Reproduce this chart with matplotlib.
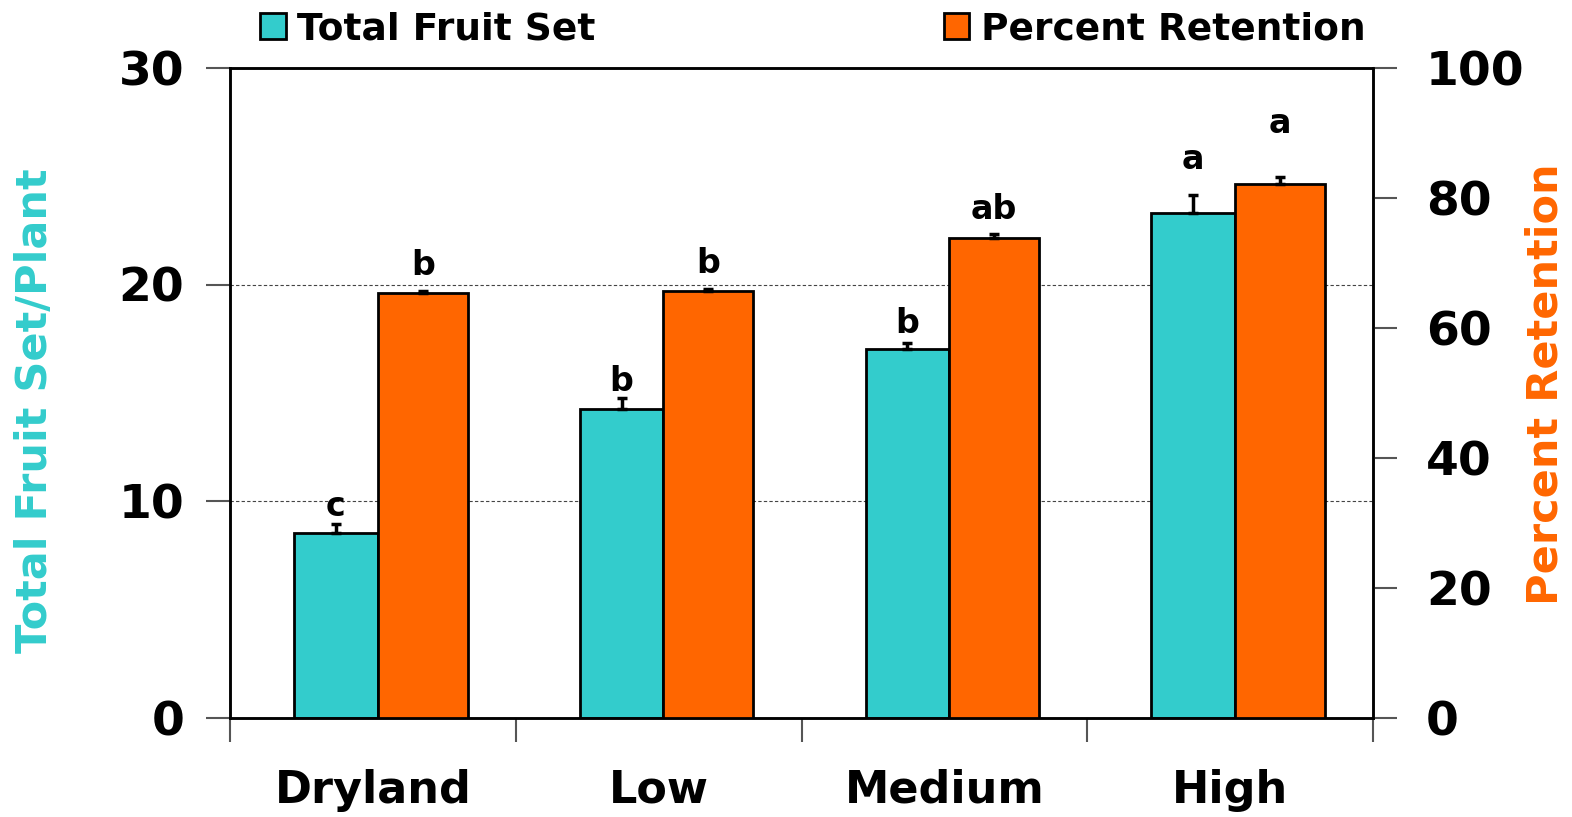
import matplotlib
matplotlib.use("Agg")
import matplotlib.pyplot as plt
import numpy as np

# Irrigation treatments
categories = ["Dryland", "Low", "Medium", "High"]

# Total fruit set per plant (left axis) with standard errors
fruit_set = [8.52, 14.23, 17.0, 23.28]
fruit_err = [0.42, 0.55, 0.32, 0.85]
fruit_letters = ["c", "b", "b", "a"]

# Percent retention (right axis) with standard errors
retention = [65.4, 65.6, 73.9, 82.2]
retention_err = [0.3, 0.3, 0.5, 1.0]
retention_letters = ["b", "b", "ab", "a"]

TEAL = "#33CCCC"
ORANGE = "#FF6600"
FONT = "DejaVu Sans"

plt.rcParams["font.family"] = FONT
plt.rcParams["font.weight"] = "bold"

fig = plt.figure(figsize=(15.72, 8.17), dpi=100)
ax = fig.add_axes([230 / 1572, 1 - 717.5 / 817, (1373 - 230) / 1572, (717.5 - 68) / 817])
ax2 = ax.twinx()

x = np.arange(len(categories))
teal_left, teal_w = 0.224, 0.293
orange_left, orange_w = 0.517, 0.315

b1 = ax.bar(x + teal_left, fruit_set, width=teal_w, align="edge", color=TEAL,
            edgecolor="black", linewidth=2, zorder=3, label="Total Fruit Set")
ax.errorbar(x + teal_left + teal_w / 2, fruit_set, yerr=[np.zeros(4), fruit_err],
            fmt="none", ecolor="black", elinewidth=2.5, capsize=3.6, capthick=2.5, zorder=4)

b2 = ax2.bar(x + orange_left, retention, width=orange_w, align="edge", color=ORANGE,
             edgecolor="black", linewidth=2, zorder=3, label="Percent Retention")
ax2.errorbar(x + orange_left + orange_w / 2, retention, yerr=[np.zeros(4), retention_err],
             fmt="none", ecolor="black", elinewidth=2.5, capsize=3.6, capthick=2.5, zorder=4)

# significance letters above each bar
fruit_gap = [0.35, 0.3, 0.45, 1.2]
ret_gap = [2.4, 2.5, 2.3, 6.8]
for i in range(len(categories)):
    ax.text(x[i] + teal_left + teal_w / 2, fruit_set[i] + fruit_err[i] + fruit_gap[i],
            fruit_letters[i], ha="center", va="baseline", fontsize=24, fontweight="bold")
    ax2.text(x[i] + orange_left + orange_w / 2, retention[i] + retention_err[i] + ret_gap[i],
             retention_letters[i], ha="center", va="baseline", fontsize=24, fontweight="bold")

ax.set_xlim(0, 4)
ax.set_ylim(0, 30)
ax2.set_ylim(0, 100)
ax.set_yticks([0, 10, 20, 30])
ax2.set_yticks([0, 20, 40, 60, 80, 100])

ax.set_xticks(np.arange(5))
ax.set_xticklabels([])
ax.set_xticks(x + 0.5, minor=True)
ax.set_xticklabels(categories, minor=True, fontsize=32, fontweight="bold")
ax.tick_params(axis="x", which="minor", length=0, pad=37)
ax.tick_params(axis="x", which="major", length=17, width=1.5, color="#555555")
ax.tick_params(axis="y", length=17, width=1.5, pad=16, labelsize=34, color="#555555")
ax2.tick_params(axis="y", length=17, width=1.5, pad=21, labelsize=34, color="#555555")

for a in (ax, ax2):
    for s in a.spines.values():
        s.set_linewidth(1.8)
        s.set_color("black")

ax.yaxis.grid(True, linestyle=(0, (3, 2)), linewidth=0.8, color="#444444", zorder=0)
ax.set_axisbelow(True)
ax2.set_zorder(ax.get_zorder() + 1)
ax2.patch.set_visible(False)

fig.text(35 / 1572, 1 - 411 / 817, "Total Fruit Set/Plant", rotation=90, color=TEAL,
         fontsize=31, fontweight="bold", ha="center", va="center")
fig.text(1546 / 1572, 1 - 384 / 817, "Percent Retention", rotation=90, color=ORANGE,
         fontsize=31, fontweight="bold", ha="center", va="center")

fig.legend(handles=[b1, b2], ncol=2, loc="upper left", bbox_to_anchor=(260 / 1572, 1 - 11 / 817),
           frameon=False, handlelength=0.68, handleheight=0.68,
           handletextpad=0.3, columnspacing=9.3, borderpad=0, borderaxespad=0,
           prop={"weight": "bold", "size": 27})

fig.savefig("out.png", dpi=100)
